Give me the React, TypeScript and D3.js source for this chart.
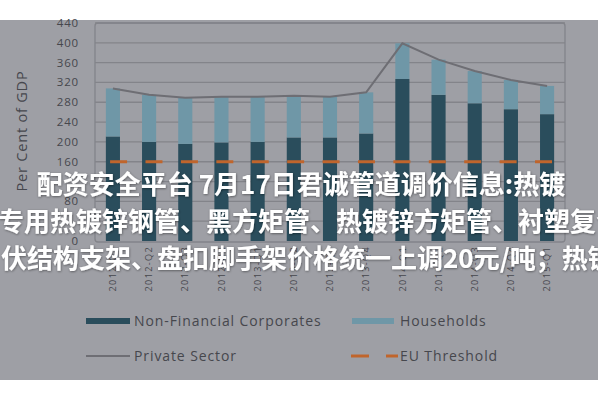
import React from "react";
import * as d3 from "d3";

const categories = ["2012-Q1","2012-Q2","2012-Q3","2012-Q4","2013-Q1","2013-Q2","2013-Q3","2013-Q4","2014-Q1","2014-Q2","2014-Q3","2014-Q4","2015-Q1"];
const nonFinancial = [211, 200, 196, 199, 200, 209, 209, 217, 327, 295, 278, 266, 256];
const households = [97, 95, 93, 92, 91, 84, 82, 83, 72, 71, 65, 59, 57];
const euThreshold = 160;
const yTicks = [0, 80, 160, 200, 240, 280, 320, 360, 400, 440];
const gridTicks = [40, 80, 120, 160, 200, 240, 280, 320, 360, 400, 440];
const overlayLines = [
  "配资安全平台 7月17日君诚管道调价信息:热镀",
  "专用热镀锌钢管、黑方矩管、热镀锌方矩管、衬塑复合",
  "伏结构支架、盘扣脚手架价格统一上调20元/吨；热镀",
];
const legendLabels = ["Non-Financial Corporates", "Households", "Private Sector", "EU Threshold"];

const BG = "#9e9fa5";
const GRID = "#83848a";
const TEXT = "#46474d";
const DARK = "#2a4d5c";
const LIGHT = "#6f97a7";
const ORANGE = "#c0652c";
const LINE = "#6e6e74";

export default function App() {
  const x = d3.scaleBand<string>().domain(categories).range([95, 565]).paddingInner(0.61).paddingOuter(0.3);
  const y = d3.scaleLinear().domain([0, 440]).range([241, 23]);
  const bw = x.bandwidth();
  const totals = categories.map((_, i) => nonFinancial[i] + households[i]);
  const line = d3.line<number>()
    .x((_, i) => (x(categories[i]) as number) + bw / 2)
    .y((d) => y(d));
  const first = (x(categories[0]) as number);
  const last = (x(categories[categories.length - 1]) as number);
  const dashStart = first + bw * 0.3;
  const dashEnd = last + bw * 0.85;
  const dashLen = 17;
  const period = (dashEnd - dashStart - dashLen) / (categories.length - 1);
  const legendFont = { fontFamily: "Open Sans", fontSize: 14, fill: TEXT, letterSpacing: 0.9 };

  return (
    <svg width={600} height={400} style={{ position: "absolute", left: 0, top: 0 }}>
      <defs>
        <filter id="sh" x="-10%" y="-30%" width="120%" height="160%">
          <feDropShadow dx="0.5" dy="0.8" stdDeviation="1" floodColor="#000" floodOpacity="0.45" />
        </filter>
      </defs>
      <rect x={0} y={0} width={600} height={400} fill="#ffffff" />
      <rect x={0} y={20} width={598} height={360} fill={BG} />
      {gridTicks.map((t) => (
        <line key={t} x1={95} x2={565} y1={y(t)} y2={y(t)} stroke={GRID} strokeWidth={1.3} />
      ))}
      <rect x={95} y={y(440)} width={470} height={y(0) - y(440) + 1} fill="none" stroke={GRID} strokeWidth={1.3} rx={3} />
      {yTicks.map((t) => (
        <text key={t} x={79} y={y(t)} dy="0.35em" textAnchor="end" fontFamily="Open Sans" fontSize={11.5} fill={TEXT} letterSpacing={0.8}>
          {t}
        </text>
      ))}
      <text transform="translate(22,131) rotate(-90)" textAnchor="middle" dy="0.35em" fontFamily="Open Sans" fontSize={14.5} fill={TEXT} letterSpacing={0.8}>
        Per Cent of GDP
      </text>
      {categories.map((c, i) => (
        <g key={c}>
          <rect x={x(c)} y={y(nonFinancial[i])} width={bw} height={y(0) - y(nonFinancial[i])} fill={DARK} />
          <rect x={x(c)} y={y(totals[i])} width={bw} height={y(nonFinancial[i]) - y(totals[i])} fill={LIGHT} />
        </g>
      ))}
      <line x1={dashStart} x2={dashEnd} y1={y(euThreshold)} y2={y(euThreshold)} stroke={ORANGE} strokeWidth={3} strokeDasharray={`${dashLen} ${period - dashLen}`} />
      <path d={line(totals) as string} fill="none" stroke={LINE} strokeWidth={2} />
      {categories.map((c) => (
        <text key={c} transform={`translate(${(x(c) as number) + bw / 2},246) rotate(-90)`} textAnchor="end" dy="0.35em" fontFamily="Open Sans" fontSize={9} fill={TEXT} letterSpacing={1.4}>
          {c}
        </text>
      ))}
      <rect x={86} y={318} width={44} height={6} fill={DARK} />
      <text x={134} y={321} dy="0.35em" {...legendFont}>{legendLabels[0]}</text>
      <rect x={352} y={318} width={42} height={6} fill={LIGHT} />
      <text x={400} y={321} dy="0.35em" {...legendFont}>{legendLabels[1]}</text>
      <line x1={86} x2={130} y1={356} y2={356} stroke={LINE} strokeWidth={2} />
      <text x={134} y={356} dy="0.35em" {...legendFont}>{legendLabels[2]}</text>
      <line x1={351} x2={369} y1={356} y2={356} stroke={ORANGE} strokeWidth={3} />
      <line x1={386} x2={398} y1={356} y2={356} stroke={ORANGE} strokeWidth={3} />
      <text x={400} y={356} dy="0.35em" {...legendFont}>{legendLabels[3]}</text>
      <g fontFamily="Noto Sans CJK SC" fontWeight={700} fontSize={26} fill="#ffffff" filter="url(#sh)">
        <text x={301} y={194} textAnchor="middle">{overlayLines[0]}</text>
        <text x={-2} y={231}>{overlayLines[1]}</text>
        <text x={1} y={268}>{overlayLines[2]}</text>
      </g>
      <rect x={598} y={0} width={2} height={400} fill="#ffffff" />
    </svg>
  );
}
